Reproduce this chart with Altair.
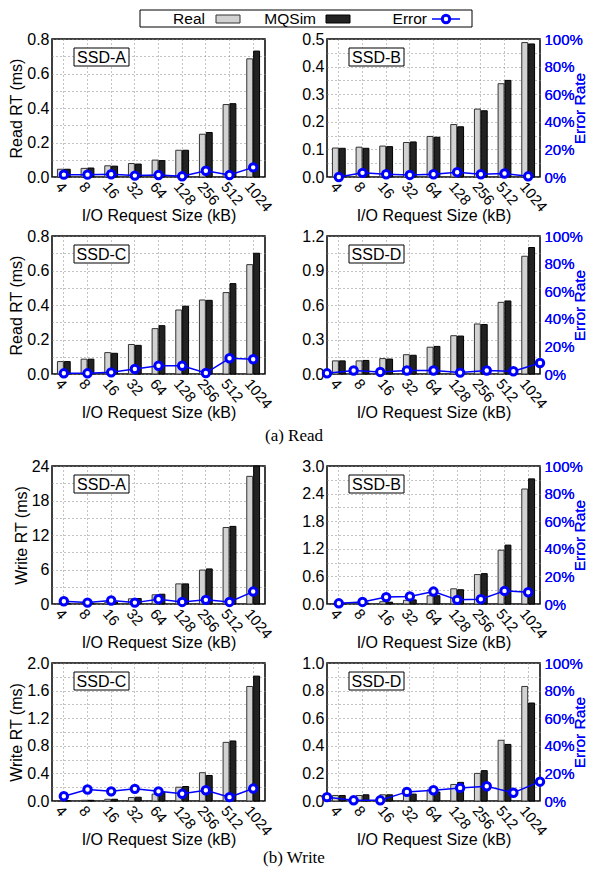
import altair as alt
import pandas as pd

sizes = ["4", "8", "16", "32", "64", "128", "256", "512", "1024"]
series_names = ["Real", "MQSim"]
legend_labels = ["Real", "MQSim", "Error"]

# ---- Read ----
read_a_real = [0.045, 0.050, 0.065, 0.078, 0.098, 0.155, 0.248, 0.420, 0.685]
read_a_sim = [0.045, 0.052, 0.063, 0.075, 0.095, 0.155, 0.258, 0.425, 0.730]
read_a_err = [1.7, 1.7, 2.0, 1.0, 1.4, 0.5, 4.5, 1.4, 7.0]

read_b_real = [0.105, 0.108, 0.112, 0.125, 0.147, 0.190, 0.246, 0.338, 0.487]
read_b_sim = [0.104, 0.104, 0.110, 0.127, 0.144, 0.182, 0.240, 0.350, 0.482]
read_b_err = [0.0, 3.0, 2.0, 1.5, 2.0, 3.5, 2.0, 2.5, 0.5]

read_c_real = [0.072, 0.086, 0.124, 0.171, 0.263, 0.371, 0.429, 0.472, 0.634]
read_c_sim = [0.072, 0.086, 0.120, 0.166, 0.280, 0.393, 0.427, 0.524, 0.700]
read_c_err = [0.5, 0.5, 1.2, 3.6, 6.0, 6.0, 0.7, 11.4, 10.7]

read_d_real = [0.114, 0.114, 0.134, 0.168, 0.233, 0.333, 0.435, 0.623, 1.024]
read_d_sim = [0.114, 0.118, 0.130, 0.163, 0.240, 0.330, 0.430, 0.635, 1.100]
read_d_err = [0.5, 2.5, 1.5, 2.5, 2.5, 1.0, 2.5, 2.0, 8.0]

# ---- Write ----
write_a_real = [0.1, 0.1, 0.3, 0.9, 1.6, 3.5, 5.9, 13.3, 22.2]
write_a_sim = [0.1, 0.1, 0.35, 0.95, 1.7, 3.5, 6.1, 13.5, 24.0]
write_a_err = [2.0, 1.0, 2.5, 1.0, 3.5, 1.5, 3.0, 1.5, 9.0]

write_b_real = [0.01, 0.02, 0.05, 0.08, 0.18, 0.33, 0.64, 1.17, 2.50]
write_b_sim = [0.01, 0.02, 0.04, 0.09, 0.18, 0.31, 0.66, 1.28, 2.72]
write_b_err = [0.5, 1.5, 5.0, 5.5, 9.0, 3.0, 3.5, 9.5, 8.5]

write_c_real = [0.005, 0.01, 0.025, 0.05, 0.10, 0.20, 0.41, 0.85, 1.66]
write_c_sim = [0.005, 0.01, 0.025, 0.055, 0.13, 0.21, 0.37, 0.87, 1.81]
write_c_err = [3.5, 8.3, 7.0, 8.8, 7.0, 5.2, 7.8, 2.8, 9.0]

write_d_real = [0.04, 0.04, 0.045, 0.05, 0.08, 0.12, 0.20, 0.44, 0.83]
write_d_sim = [0.04, 0.045, 0.045, 0.05, 0.065, 0.135, 0.22, 0.41, 0.71]
write_d_err = [2.8, 0.5, 0.5, 6.6, 7.8, 9.5, 10.7, 6.0, 14.0]

FONT = "Liberation Sans"
BLUE = "#0000ff"
REAL_FILL = "#d2d2d2"
SIM_FILL = "#222222"
PW, PH = 213, 138


def panel(name, real, sim, err, ymax, major, fmt, ytitle, right_axis, edge_line,
          bottom_ext=49):
    df = pd.DataFrame({"size": sizes, "idx": list(range(len(sizes))),
                       "Real": real, "MQSim": sim, "err": err})
    base = alt.Chart(df)
    minor = major / 2.0
    nvals = int(round(ymax / minor))
    vals = [round(i * minor, 6) for i in range(nvals + 1)]
    label_expr = (f"abs(datum.value/{major} - round(datum.value/{major})) < 0.001 ? "
                  f"format(datum.value, '{fmt}') : ''")
    yaxis_kw = dict(values=vals, labelExpr=label_expr, grid=True, gridDash=[1, 3],
                    gridColor="#888888", ticks=False, domain=False, labelFontSize=16,
                    labelPadding=3, labelFont=FONT, labelColor="black")
    if ytitle:
        yaxis_kw.update(title=ytitle, titleFontSize=16, titleFont=FONT,
                        titleFontWeight="normal", titlePadding=2, titleColor="black")
    else:
        yaxis_kw.update(title="")
    xaxis = alt.Axis(title="I/O Request Size (kB)", titleFontSize=16, titleFont=FONT,
                     titleFontWeight="normal", titleColor="black",
                     titleY=38, titleBaseline="middle",
                     labelAngle=50, labelAlign="left", labelBaseline="top",
                     labelFontSize=15, labelFont=FONT, labelPadding=2, labelColor="black",
                     grid=True, gridDash=[1, 3], gridColor="#888888", bandPosition=0.5,
                     ticks=False, domain=False)
    bars = base.transform_fold(series_names, as_=["series", "value"]).mark_bar(
        strokeWidth=1
    ).encode(
        x=alt.X("size:N", sort=sizes, scale=alt.Scale(paddingInner=0, paddingOuter=0),
                axis=xaxis),
        xOffset=alt.XOffset("series:N", sort=series_names,
                            scale=alt.Scale(paddingInner=0.14, paddingOuter=0.79)),
        y=alt.Y("value:Q", scale=alt.Scale(domain=[0, ymax], nice=False),
                axis=alt.Axis(**yaxis_kw)),
        fill=alt.Fill("series:N", scale=alt.Scale(domain=series_names,
                                                  range=[REAL_FILL, SIM_FILL]),
                      legend=None),
        stroke=alt.Stroke("series:N", scale=alt.Scale(domain=series_names,
                                                      range=["#333333", "#000000"]),
                          legend=None),
    )
    dom = [0, len(sizes) - 1] if edge_line else [-0.5, len(sizes) - 0.5]
    if right_axis:
        eaxis = alt.Axis(orient="right", values=[0, 20, 40, 60, 80, 100],
                         labelExpr="datum.value + '%'", labelColor=BLUE, labelFontSize=15,
                         labelFont=FONT, labelPadding=4, ticks=False, domain=False,
                         grid=False, title="Error Rate", titleColor=BLUE, titleFontSize=15.5,
                         titleFont=FONT, titleFontWeight="normal", titleAngle=270,
                         titleX=39, titleY=PH / 2, titleAlign="center",
                         titleBaseline="middle")
        ey = alt.Y("err:Q", scale=alt.Scale(domain=[0, 100], nice=False), axis=eaxis)
    else:
        ey = alt.Y("err:Q", scale=alt.Scale(domain=[0, 100], nice=False), axis=None)
    ex = alt.X("idx:Q", scale=alt.Scale(domain=dom, nice=False, zero=False), axis=None)
    line = base.mark_line(color=BLUE, strokeWidth=1.5).encode(x=ex, y=ey)
    pts = base.mark_point(shape="circle", filled=False, color=BLUE, fill="white",
                          fillOpacity=1, strokeWidth=3, size=55, opacity=1).encode(x=ex, y=ey)
    lab_df = pd.DataFrame({"label": [name]})
    box = alt.Chart(lab_df).mark_rect(fill="white", stroke="black", strokeWidth=1).encode(
        x=alt.value(22), x2=alt.value(77), y=alt.value(9), y2=alt.value(27))
    txt = alt.Chart(lab_df).mark_text(font=FONT, fontSize=16, color="black").encode(
        x=alt.value(49.5), y=alt.value(18.5), text="label:N")
    # invisible spacer reserving room below the x-axis title
    spacer = alt.Chart(lab_df).mark_rule(strokeOpacity=0, color="white").encode(
        x=alt.value(1), y=alt.value(PH), y2=alt.value(PH + bottom_ext))
    return alt.layer(bars, line, pts, box, txt, spacer).resolve_scale(
        x="independent", y="independent").properties(width=PW, height=PH)


pRA = panel("SSD-A", read_a_real, read_a_sim, read_a_err, 0.8, 0.2, ".1f", "Read RT (ms)", False, False)
pRB = panel("SSD-B", read_b_real, read_b_sim, read_b_err, 0.5, 0.1, ".1f", None, True, False)
pRC = panel("SSD-C", read_c_real, read_c_sim, read_c_err, 0.8, 0.2, ".1f", "Read RT (ms)", False, False)
pRD = panel("SSD-D", read_d_real, read_d_sim, read_d_err, 1.2, 0.3, ".1f", None, True, True)
pWA = panel("SSD-A", write_a_real, write_a_sim, write_a_err, 24, 6, "d", "Write RT (ms)", False, False)
pWB = panel("SSD-B", write_b_real, write_b_sim, write_b_err, 3.0, 0.6, ".1f", None, True, False)
pWC = panel("SSD-C", write_c_real, write_c_sim, write_c_err, 2.0, 0.4, ".1f", "Write RT (ms)", False, False, 46)
pWD = panel("SSD-D", write_d_real, write_d_sim, write_d_err, 1.0, 0.2, ".1f", None, True, True, 46)

HS = 26
row1 = alt.hconcat(pRA, pRB, spacing=HS)
row2 = alt.hconcat(pRC, pRD, spacing=HS)
row3 = alt.hconcat(pWA, pWB, spacing=HS)
row4 = alt.hconcat(pWC, pWD, spacing=HS)

# ---- legend (top) ----
noview = alt.ViewBackground(stroke="transparent")


def one(label):
    return alt.Chart(pd.DataFrame({"label": [label]}))


lbox = one("box").mark_rect(fill="white", stroke="black", strokeWidth=1).encode(
    x=alt.value(88), x2=alt.value(420), y=alt.value(0), y2=alt.value(17))
lt_real = one(legend_labels[0]).mark_text(
    font=FONT, fontSize=15.5, align="right", baseline="middle").encode(
    x=alt.value(153), y=alt.value(9), text="label:N")
lt_sim = one(legend_labels[1]).mark_text(
    font=FONT, fontSize=15.5, align="right", baseline="middle").encode(
    x=alt.value(264), y=alt.value(9), text="label:N")
lt_err = one(legend_labels[2]).mark_text(
    font=FONT, fontSize=15.5, align="right", baseline="middle").encode(
    x=alt.value(375), y=alt.value(9), text="label:N")
sw_real = one(legend_labels[0]).mark_rect(
    fill=REAL_FILL, stroke="#333333", strokeWidth=1).encode(
    x=alt.value(164), x2=alt.value(188), y=alt.value(5), y2=alt.value(13))
sw_sim = one(legend_labels[1]).mark_rect(
    fill=SIM_FILL, stroke="#000000", strokeWidth=1).encode(
    x=alt.value(274), x2=alt.value(298), y=alt.value(5), y2=alt.value(13))
sw_line = one(legend_labels[2]).mark_rule(
    color=BLUE, strokeWidth=1.5).encode(
    x=alt.value(380), x2=alt.value(408), y=alt.value(9))
sw_pt = one(legend_labels[2]).mark_point(
    shape="circle", filled=False, color=BLUE, fill="white", fillOpacity=1,
    strokeWidth=3, size=55).encode(x=alt.value(394), y=alt.value(9))
legend = alt.layer(lbox, lt_real, lt_sim, lt_err, sw_real, sw_sim, sw_line, sw_pt).properties(
    width=440, height=17, view=noview)


def caption(text, y0, h):
    return alt.Chart(pd.DataFrame({"t": [text]})).mark_text(
        font="Liberation Serif", fontSize=17, align="center", baseline="top",
        color="black").encode(x=alt.value(242), y=alt.value(y0), text="t:N").properties(
        width=440, height=h, view=noview)


capA = caption("(a) Read", 3, 31)
capB = caption("(b) Write", 0, 17)

chart = alt.vconcat(legend, row1, row2, capA, row3, row4, capB, spacing=0).properties(
    padding=0
).configure_view(stroke="black", strokeWidth=1.5)

chart.save("out.html", embed_options={"renderer": "svg", "actions": False})
